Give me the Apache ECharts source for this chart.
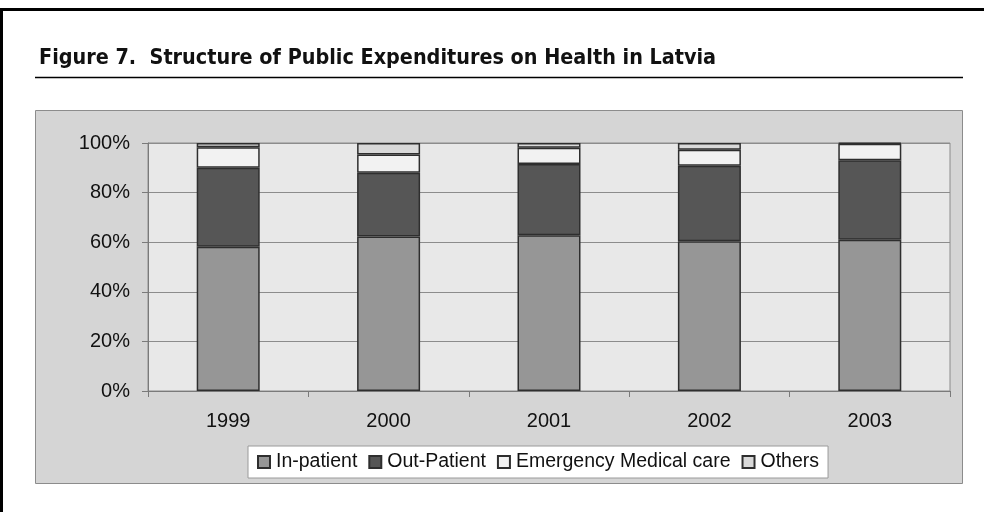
<!DOCTYPE html>
<html>
<head>
<meta charset="utf-8">
<style>
  html, body { margin: 0; padding: 0; background: #ffffff; }
  #chart { width: 984px; height: 512px; }
</style>
<script src="https://cdn.jsdelivr.net/npm/echarts@6/dist/echarts.min.js"></script>
</head>
<body>
<div id="chart"></div>
<script>
// Shares of public health spending, percent of total per year
const years = ['1999', '2000', '2001', '2002', '2003'];
const inPatient = [58.2, 62.3, 62.8, 60.4, 61.0];
const outPatient = [31.8, 25.7, 28.7, 30.4, 32.0];
const emergencyCare = [8.3, 7.4, 6.6, 6.5, 6.7];
const others = [1.7, 4.6, 1.9, 2.7, 0.3];

const seriesNames = ['In-patient', 'Out-Patient', 'Emergency Medical care', 'Others'];
const seriesData = [inPatient, outPatient, emergencyCare, others];
const seriesColors = ['#969696', '#565656', '#f2f2f2', '#d9d9d9'];

const chart = echarts.init(document.getElementById('chart'), null, { renderer: 'canvas' });

const baseFont = '"Liberation Sans", Arial, sans-serif';

chart.setOption({
  animation: false,
  backgroundColor: '#ffffff',
  title: {
    text: 'Figure 7.  Structure of Public Expenditures on Health in Latvia',
    left: 34,
    top: 43,
    textStyle: {
      fontFamily: '"DejaVu Sans Condensed", sans-serif',
      fontWeight: 'bold',
      fontSize: 21.4,
      color: '#111111'
    }
  },
  graphic: [
    // page frame: heavy rule along the top and the left edge
    { type: 'rect', shape: { x: 0, y: 8, width: 984, height: 3 }, style: { fill: '#000' }, silent: true },
    { type: 'rect', shape: { x: 0, y: 8, width: 3, height: 504 }, style: { fill: '#000' }, silent: true },
    // rule under the figure caption
    { type: 'line', shape: { x1: 35, y1: 77.5, x2: 963, y2: 77.5 }, style: { stroke: '#000', lineWidth: 1.5 }, silent: true },
    // chart panel behind the plot
    { type: 'rect', z: -10, shape: { x: 35.5, y: 110.5, width: 927, height: 373 },
      style: { fill: '#d5d5d5', stroke: '#8c8c8c', lineWidth: 1 }, silent: true }
  ],
  grid: {
    left: 148,
    right: 34,
    top: 143,
    bottom: 121,
    show: true,
    backgroundColor: '#e8e8e8',
    borderColor: '#8c8c8c',
    borderWidth: 1,
    containLabel: false
  },
  legend: {
    data: seriesNames,
    left: 248,
    top: 446,
    icon: 'rect',
    itemWidth: 12,
    itemHeight: 12,
    itemGap: 11,
    padding: [6, 9, 6, 9],
    backgroundColor: '#ffffff',
    borderColor: '#9a9a9a',
    borderWidth: 1,
    textStyle: { fontFamily: baseFont, fontSize: 19.5, color: '#111111', padding: [0, 0, 0, 1] }
  },
  xAxis: {
    type: 'category',
    data: years,
    axisLine: { lineStyle: { color: '#7a7a7a', width: 1 } },
    axisTick: { show: true, length: 6, lineStyle: { color: '#7a7a7a' } },
    axisLabel: { fontFamily: baseFont, fontSize: 20, color: '#111111', margin: 20 }
  },
  yAxis: {
    type: 'value',
    min: 0,
    max: 100,
    interval: 20,
    axisLine: { show: true, lineStyle: { color: '#7a7a7a', width: 1 } },
    axisTick: { show: true, length: 6, lineStyle: { color: '#7a7a7a' } },
    axisLabel: { fontFamily: baseFont, fontSize: 20, color: '#111111', margin: 18, formatter: '{value}%' },
    splitLine: { lineStyle: { color: '#8c8c8c', width: 1 } }
  },
  series: seriesNames.map((name, i) => ({
    name: name,
    type: 'bar',
    stack: 'share',
    barWidth: 63,
    data: seriesData[i],
    itemStyle: { color: seriesColors[i], borderColor: '#2e2e2e', borderWidth: 1.5 }
  }))
});
</script>
</body>
</html>
